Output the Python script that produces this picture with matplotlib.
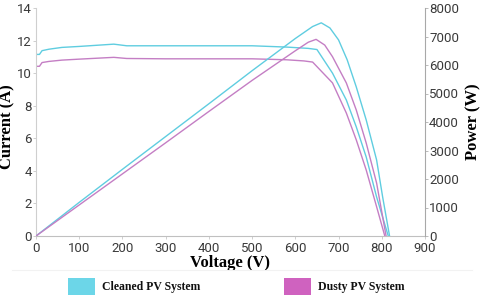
import matplotlib
matplotlib.use("Agg")
import matplotlib.pyplot as plt
from matplotlib.patches import Rectangle
from matplotlib.lines import Line2D

# current (A) vs voltage (V)
v_cur_clean = [0, 8, 14, 30, 60, 100, 180, 210, 300, 400, 500, 580, 630, 650, 686, 718, 741, 764, 788, 815]
i_clean = [11.15, 11.15, 11.38, 11.47, 11.58, 11.64, 11.78, 11.68, 11.68, 11.68, 11.68, 11.6, 11.52, 11.45, 10.0, 8.35, 6.7, 4.85, 2.4, 0]
v_cur_dusty = [0, 8, 14, 30, 60, 100, 180, 210, 300, 400, 500, 580, 620, 640, 686, 718, 741, 764, 788, 807]
i_dusty = [10.42, 10.42, 10.65, 10.72, 10.8, 10.86, 10.97, 10.9, 10.88, 10.88, 10.88, 10.82, 10.75, 10.68, 9.4, 7.55, 5.9, 4.05, 1.8, 0]

# power (W) vs voltage (V)
v_pow_clean = [0, 100, 200, 300, 400, 500, 600, 640, 660, 680, 700, 720, 741, 764, 788, 802, 818]
p_clean = [0, 1180, 2340, 3490, 4640, 5800, 6930, 7350, 7480, 7300, 6880, 6180, 5230, 4070, 2670, 1370, 0]
v_pow_dusty = [0, 100, 200, 300, 400, 500, 600, 630, 648, 668, 686, 718, 741, 764, 788, 810]
p_dusty = [0, 1090, 2180, 3270, 4370, 5460, 6500, 6800, 6900, 6700, 6290, 5370, 4420, 3260, 1860, 0]

series_names = ["Cleaned PV System", "Dusty PV System"]
line_colors = ["#5fcde0", "#c47ec4"]
patch_colors = ["#6cd6e8", "#cf62bf"]

tick_color = "#3a3a3a"
plt.rcParams['font.family'] = ['Roboto', 'DejaVu Sans']

fig = plt.figure(figsize=(4.84, 3.0), dpi=100)
ax = fig.add_axes([36 / 484, 1 - 236 / 300, (425 - 36) / 484, 228 / 300])
ax2 = ax.twinx()

ax.plot(v_cur_clean, i_clean, color=line_colors[0], lw=1.0)
ax.plot(v_cur_dusty, i_dusty, color=line_colors[1], lw=1.0)
ax2.plot(v_pow_clean, p_clean, color=line_colors[0], lw=1.0)
ax2.plot(v_pow_dusty, p_dusty, color=line_colors[1], lw=1.0)

ax.set_xlim(0, 900)
ax.set_ylim(0, 14)
ax2.set_ylim(0, 8000)
ax.set_xticks(range(0, 901, 100))
ax.set_yticks(range(0, 15, 2))
ax2.set_yticks(range(0, 8001, 1000))

for a in (ax, ax2):
    a.spines['top'].set_visible(False)
    a.tick_params(labelsize=9.5, colors=tick_color, length=2, width=0.6, pad=1)
ax.tick_params(axis='both', color='#c8c8c8')
ax.tick_params(axis='x', pad=2.5)
ax2.tick_params(axis='y', color='#b0b0b0', pad=1)
ax.spines['left'].set_color('#cfcfcf')
ax.spines['bottom'].set_color('#c0c0c0')
ax.spines['right'].set_visible(False)
ax2.spines['left'].set_visible(False)
ax2.spines['bottom'].set_visible(False)
ax2.spines['right'].set_color('#a8a8a8')
for a in (ax, ax2):
    for s in a.spines.values():
        s.set_linewidth(0.8)

serif = ['Liberation Serif', 'DejaVu Serif']
ax.set_xlabel("Voltage (V)", family=serif, fontweight='bold', fontsize=12, labelpad=0)
ax.set_ylabel("Current (A)", family=serif, fontweight='bold', fontsize=12)
ax2.set_ylabel("Power (W)", family=serif, fontweight='bold', fontsize=12)
ax.yaxis.set_label_coords(-0.054, 0.48)
ax2.yaxis.set_label_coords(1.103, 0.5)

# faint separator under axis title
fig.add_artist(Line2D([12 / 484, 472 / 484], [1 - 270 / 300] * 2, color='#f2f2f2', lw=0.8))

# legend
legend_x = [68, 284]
for name, col, x0 in zip(series_names, patch_colors, legend_x):
    fig.add_artist(Rectangle((x0 / 484, 1 - 295 / 300), 27 / 484, 17 / 300,
                             transform=fig.transFigure, facecolor=col, edgecolor='none'))
    fig.text((x0 + 34) / 484, 1 - 287 / 300, name, family=serif, fontweight='bold',
             fontsize=8.5, va='center', ha='left', color='#111111')

fig.savefig("out.png", dpi=100)
